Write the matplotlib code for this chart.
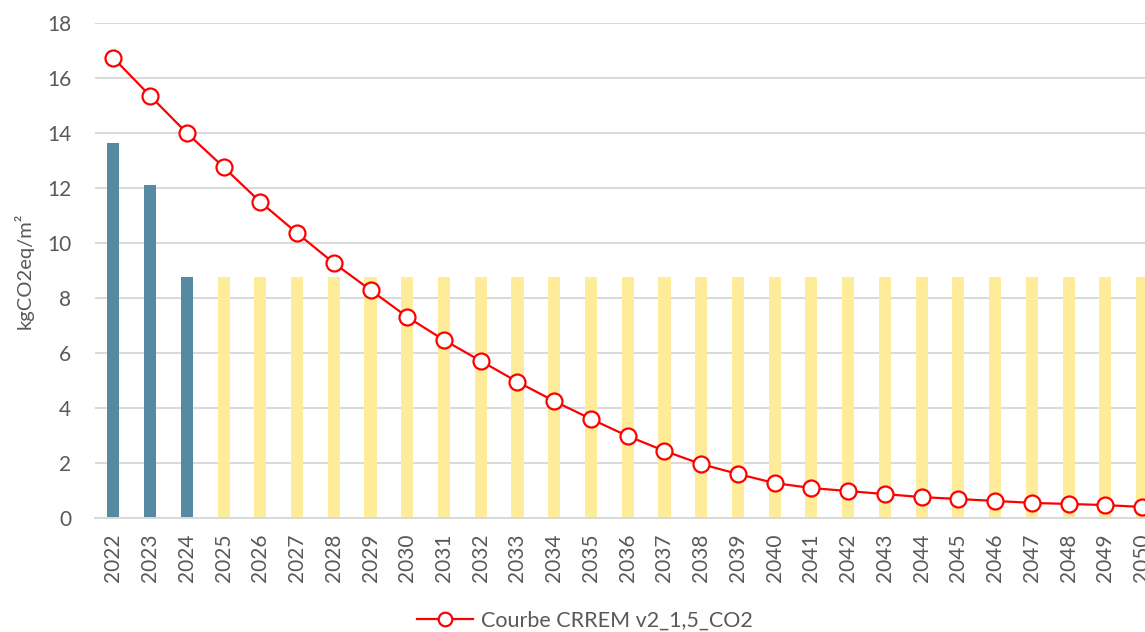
import matplotlib
matplotlib.use("Agg")
import matplotlib.pyplot as plt
import numpy as np

plt.rcParams['font.family'] = ['Lato', 'DejaVu Sans']

years = [str(y) for y in range(2022, 2051)]

# Measured emissions (2022-2024) and projected constant level (2025-2050)
measured = [13.65, 12.12, 8.78]
projected = [8.78] * 26

# CRREM v2 1.5°C decarbonisation pathway
crrem = [16.73, 15.35, 14.00, 12.76, 11.49, 10.36, 9.27, 8.29, 7.31, 6.47,
         5.71, 4.95, 4.25, 3.60, 2.98, 2.44, 1.96, 1.60, 1.27, 1.09,
         0.98, 0.87, 0.76, 0.69, 0.62, 0.55, 0.51, 0.47, 0.40]

y_ticks = [0, 2, 4, 6, 8, 10, 12, 14, 16, 18]

W, H = 1145, 632
fig = plt.figure(figsize=(W / 100, H / 100), dpi=100)
ax = fig.add_axes([95 / W, (H - 518) / H, 1 - 95 / W, (518 - 23) / H])

x = np.arange(len(years))
bar_w = 0.33
ax.bar(x[:3], measured, width=bar_w, color='#568aa2', zorder=2)
ax.bar(x[3:], projected, width=bar_w, color='#ffec9b', zorder=2)

line, = ax.plot(x, crrem, color='#ff0000', lw=1.6, marker='o', markersize=11.5,
                markerfacecolor='white', markeredgecolor='#ff0000',
                markeredgewidth=1.6, zorder=3, clip_on=False,
                label='Courbe CRREM v2_1,5_CO2')

ax.set_xlim(-0.5, 28.08)
ax.set_ylim(0, 18)
ax.set_yticks(y_ticks)
ax.set_xticks(x)
ax.set_xticklabels(years, rotation=90)

ax.yaxis.grid(True, color='#d9d9d9', lw=1.4, zorder=0)
ax.set_axisbelow(True)
for s in ['top', 'right', 'left']:
    ax.spines[s].set_visible(False)
ax.spines['bottom'].set_color('#d9d9d9')
ax.spines['bottom'].set_linewidth(1.4)

ax.tick_params(axis='both', length=0, labelcolor='#595959', labelsize=15)
ax.tick_params(axis='y', pad=17)
ax.tick_params(axis='x', pad=11)

ax.set_ylabel('kgCO2eq/m²', color='#595959', fontsize=14.5, labelpad=10)

fig.legend(handles=[line], loc='center', bbox_to_anchor=(585 / W, (H - 621) / H),
           frameon=False, fontsize=15.5, labelcolor='#595959',
           handlelength=2.6, handletextpad=0.4, markerscale=0.85)

fig.savefig('out.png', dpi=100)
